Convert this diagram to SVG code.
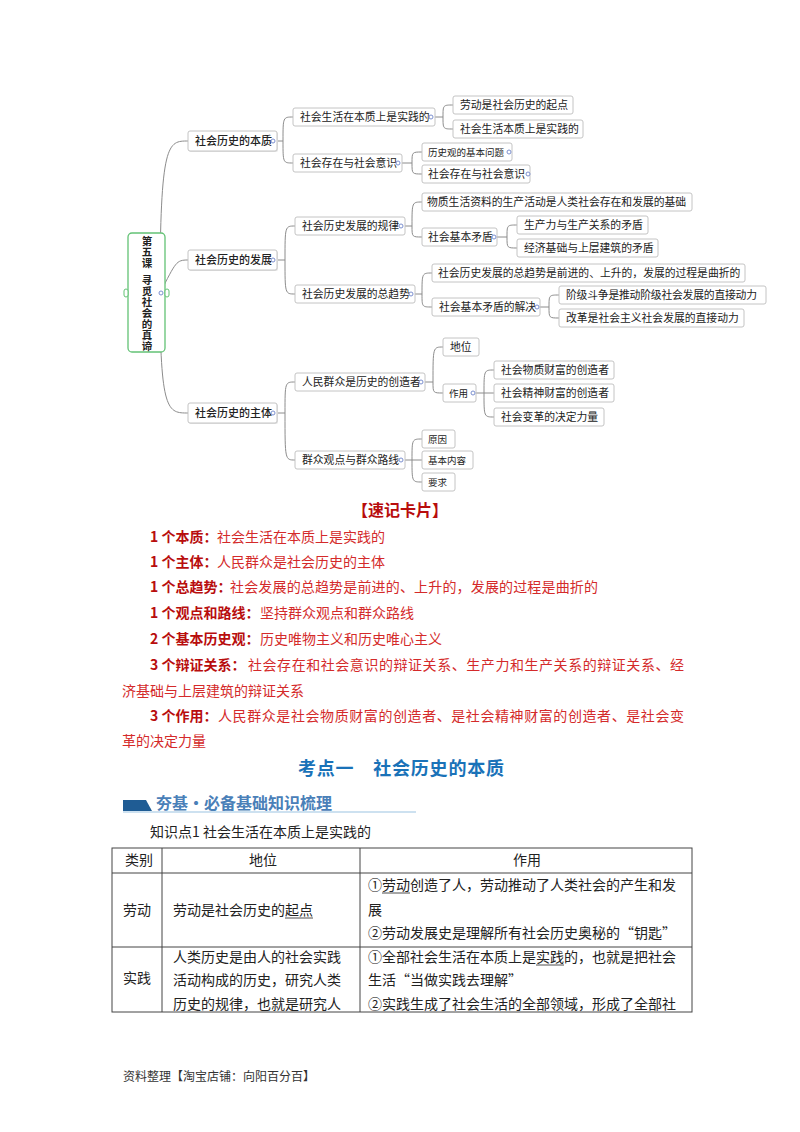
<svg xmlns="http://www.w3.org/2000/svg" width="800" height="1132" viewBox="0 0 800 1132">
<style>
.bg{fill:#fff}
.nb{fill:#fff;stroke:#c4c4c4;stroke-width:1}
.sh{fill:#e4e4e4}
.t{font-family:"Noto Sans CJK SC","Noto Sans",sans-serif;font-size:10.8px;fill:#222}
.ts{font-size:9.5px}
.t1{font-size:11px;font-weight:500}
.cn{fill:none;stroke:#8c8c8c;stroke-width:1}
.dot{fill:#fff;stroke:#7b8fcf;stroke-width:1}
.rt{font-family:"Noto Sans CJK SC",sans-serif;font-size:10.5px;font-weight:700;fill:#222;writing-mode:vertical-rl;letter-spacing:0.5px}
.cp{font-family:"Noto Sans CJK SC",serif;font-size:14px;font-weight:700;fill:#b80d0d}
.cb{font-family:"Noto Sans CJK SC",serif;font-size:14px;fill:#d42a2a}
.tb{font-family:"Noto Sans CJK SC",serif;font-size:14px;fill:#222}
.tl{stroke:#444;stroke-width:1;fill:none}
.ul{stroke:#222;stroke-width:0.8}
</style>
<rect class="bg" x="0" y="0" width="800" height="1132"/>

<!-- connectors -->
<g id="connectors">
  <path class="cn" d="M160,293 C160,141 168,141 188,141"/>
  <path class="cn" d="M160,293 C176,262 176,260 188,260"/>
  <path class="cn" d="M160,293 C160,413 168,413 188,413"/>

  <path class="cn" d="M277,141 H283 C283,117 283,117 293,117 M283,141 C283,163 283,163 293,163"/>
  <path class="cn" d="M277,260 H285 C285,226 285,226 295,226 M285,260 C285,294 285,294 295,294"/>
  <path class="cn" d="M277,413 H285 C285,382 285,382 295,382 M285,413 C285,460 285,460 295,460"/>

  <path class="cn" d="M435,117 H443 C443,105 443,105 453,105 M443,117 C443,129 443,129 453,129"/>
  <path class="cn" d="M402,163 H412 C412,152 412,152 422,152 M412,163 C412,174 412,174 422,174"/>
  <path class="cn" d="M405,226 H412 C412,202 412,202 422,202 M412,226 C412,237 412,237 422,237"/>
  <path class="cn" d="M497,237 H507 C507,225 507,225 517,225 M507,237 C507,248 507,248 517,248"/>
  <path class="cn" d="M415,294 H422 C422,273 422,273 432,273 M422,294 C422,307 422,307 432,307"/>
  <path class="cn" d="M540,307 H549 C549,295 549,295 559,295 M549,307 C549,318 549,318 559,318"/>
  <path class="cn" d="M425,382 H433 C433,347 433,347 443,347 M433,382 C433,393 433,393 443,393"/>
  <path class="cn" d="M476,393 H494 M484,393 C484,370 484,370 494,370 M484,393 C484,417 484,417 494,417"/>
  <path class="cn" d="M405,460 H422 M412,460 C412,439 412,439 422,439 M412,460 C412,482 412,482 422,482"/>
</g>

<!-- root -->
<g id="root">
  <rect x="128" y="233" width="37" height="119" rx="4" fill="#fff" stroke="#63c275" stroke-width="1.3"/>
  <rect x="124" y="289" width="4" height="8" rx="2" fill="#fff" stroke="#63c275" stroke-width="1"/>
  <rect x="165" y="289" width="4" height="8" rx="2" fill="#fff" stroke="#63c275" stroke-width="1"/>
  <circle class="dot" cx="161" cy="293" r="2"/>
  <text class="rt" x="147" y="236">第五课</text>
  <text class="rt" x="147" y="275">寻觅社会的真谛</text>
</g>

<!-- level 1 -->
<g id="n-benzhi"><rect class="sh" x="189" y="132" width="89" height="20" rx="2"/><rect class="nb" x="188" y="131" width="89" height="20" rx="2"/><text class="t t1" x="195" y="145">社会历史的本质</text><circle class="dot" cx="273" cy="141" r="2"/></g>
<g id="n-fazhan"><rect class="sh" x="189" y="251" width="89" height="20" rx="2"/><rect class="nb" x="188" y="250" width="89" height="20" rx="2"/><text class="t t1" x="195" y="264">社会历史的发展</text><circle class="dot" cx="273" cy="260" r="2"/></g>
<g id="n-zhuti"><rect class="sh" x="189" y="404" width="89" height="20" rx="2"/><rect class="nb" x="188" y="403" width="89" height="20" rx="2"/><text class="t t1" x="195" y="417">社会历史的主体</text><circle class="dot" cx="273" cy="413" r="2"/></g>

<!-- level 2 -->
<g id="n-shijian"><rect class="nb" x="293" y="108" width="142" height="18" rx="2"/><text class="t" x="300" y="121">社会生活在本质上是实践的</text><circle class="dot" cx="431" cy="117" r="2"/></g>
<g id="n-cunzai"><rect class="nb" x="293" y="154" width="109" height="18" rx="2"/><text class="t" x="300" y="167">社会存在与社会意识</text><circle class="dot" cx="398" cy="163" r="2"/></g>
<g id="n-guilv"><rect class="nb" x="295" y="217" width="110" height="18" rx="2"/><text class="t" x="302" y="230">社会历史发展的规律</text><circle class="dot" cx="401" cy="226" r="2"/></g>
<g id="n-qushi"><rect class="nb" x="295" y="285" width="120" height="18" rx="2"/><text class="t" x="302" y="298">社会历史发展的总趋势</text><circle class="dot" cx="411" cy="294" r="2"/></g>
<g id="n-chuangzao"><rect class="nb" x="295" y="373" width="130" height="18" rx="2"/><text class="t" x="302" y="386">人民群众是历史的创造者</text><circle class="dot" cx="421" cy="382" r="2"/></g>
<g id="n-qunzhong"><rect class="nb" x="295" y="451" width="110" height="18" rx="2"/><text class="t" x="302" y="464">群众观点与群众路线</text><circle class="dot" cx="401" cy="460" r="2"/></g>

<!-- level 3 -->
<g id="n-qidian"><rect class="nb" x="453" y="96" width="120" height="18" rx="2"/><text class="t" x="460" y="109">劳动是社会历史的起点</text></g>
<g id="n-shijian2"><rect class="nb" x="453" y="120" width="130" height="18" rx="2"/><text class="t" x="460" y="133">社会生活本质上是实践的</text></g>
<g id="n-wenti"><rect class="nb" x="422" y="143" width="90" height="18" rx="2"/><text class="t ts" x="428" y="155.5">历史观的基本问题</text><circle class="dot" cx="509" cy="152" r="2"/></g>
<g id="n-cunzai2"><rect class="nb" x="422" y="165" width="108" height="18" rx="2"/><text class="t" x="428" y="178">社会存在与社会意识</text><circle class="dot" cx="528" cy="174" r="2"/></g>
<g id="n-jichu"><rect class="nb" x="422" y="193" width="270" height="18" rx="2"/><text class="t" x="427" y="206">物质生活资料的生产活动是人类社会存在和发展的基础</text></g>
<g id="n-maodun"><rect class="nb" x="422" y="228" width="75" height="18" rx="2"/><text class="t" x="428" y="241">社会基本矛盾</text><circle class="dot" cx="494" cy="237" r="2"/></g>
<g id="n-scl"><rect class="nb" x="517" y="216" width="131" height="18" rx="2"/><text class="t" x="524" y="229">生产力与生产关系的矛盾</text></g>
<g id="n-jjjc"><rect class="nb" x="517" y="239" width="141" height="18" rx="2"/><text class="t" x="524" y="252">经济基础与上层建筑的矛盾</text></g>
<g id="n-zqs"><rect class="nb" x="432" y="264" width="313" height="18" rx="2"/><text class="t" x="438" y="277">社会历史发展的总趋势是前进的、上升的，发展的过程是曲折的</text></g>
<g id="n-jiejue"><rect class="nb" x="432" y="298" width="108" height="18" rx="2"/><text class="t" x="439" y="311">社会基本矛盾的解决</text><circle class="dot" cx="537" cy="307" r="2"/></g>
<g id="n-jieji"><rect class="nb" x="559" y="286" width="207" height="18" rx="2"/><text class="t" x="566" y="299" textLength="191">阶级斗争是推动阶级社会发展的直接动力</text></g>
<g id="n-gaige"><rect class="nb" x="559" y="309" width="185" height="18" rx="2"/><text class="t" x="566" y="322">改革是社会主义社会发展的直接动力</text></g>
<g id="n-diwei"><rect class="nb" x="443" y="338" width="36" height="18" rx="2"/><text class="t" x="450" y="351">地位</text></g>
<g id="n-zuoyong"><rect class="nb" x="443" y="384" width="33" height="18" rx="2"/><text class="t ts" x="449" y="396.5">作用</text><circle class="dot" cx="473" cy="393" r="2"/></g>
<g id="n-wuzhi"><rect class="nb" x="494" y="361" width="120" height="18" rx="2"/><text class="t" x="501" y="374">社会物质财富的创造者</text></g>
<g id="n-jingshen"><rect class="nb" x="494" y="384" width="120" height="18" rx="2"/><text class="t" x="501" y="397">社会精神财富的创造者</text></g>
<g id="n-biange"><rect class="nb" x="494" y="408" width="110" height="18" rx="2"/><text class="t" x="501" y="421">社会变革的决定力量</text></g>
<g id="n-yuanyin"><rect class="nb" x="422" y="430" width="33" height="18" rx="2"/><text class="t ts" x="428" y="442.5">原因</text></g>
<g id="n-neirong"><rect class="nb" x="422" y="451" width="51" height="18" rx="2"/><text class="t ts" x="428" y="463.5">基本内容</text></g>
<g id="n-yaoqiu"><rect class="nb" x="422" y="473" width="33" height="18" rx="2"/><text class="t ts" x="428" y="485.5">要求</text></g>

<!-- card -->
<g id="card">
  <text class="cp" x="400" y="516" text-anchor="middle" style="font-size:16px">【速记卡片】</text>
  <text class="cp" x="150" y="542">1 个本质：</text><text class="cb" x="217" y="542">社会生活在本质上是实践的</text>
  <text class="cp" x="150" y="567">1 个主体：</text><text class="cb" x="217" y="567">人民群众是社会历史的主体</text>
  <text class="cp" x="150" y="592">1 个总趋势：</text><text class="cb" x="230" y="592" textLength="368">社会发展的总趋势是前进的、上升的，发展的过程是曲折的</text>
  <text class="cp" x="150" y="618">1 个观点和路线：</text><text class="cb" x="260" y="618">坚持群众观点和群众路线</text>
  <text class="cp" x="150" y="644">2 个基本历史观：</text><text class="cb" x="260" y="644">历史唯物主义和历史唯心主义</text>
  <text class="cp" x="150" y="670">3 个辩证关系：</text><text class="cb" x="248" y="670" textLength="436">社会存在和社会意识的辩证关系、生产力和生产关系的辩证关系、经</text>
  <text class="cb" x="122" y="696">济基础与上层建筑的辩证关系</text>
  <text class="cp" x="150" y="721">3 个作用：</text><text class="cb" x="218" y="721" textLength="466">人民群众是社会物质财富的创造者、是社会精神财富的创造者、是社会变</text>
  <text class="cb" x="122" y="746">革的决定力量</text>
</g>

<!-- heading -->
<g id="heading">
  <text x="298" y="775" textLength="206" style="font-family:'Noto Sans CJK SC',sans-serif;font-size:18px;font-weight:700;fill:#1a72b8">考点一　社会历史的本质</text>
  <polygon points="123,800 146,800 152,811 123,811" fill="#1f5c94"/>
  <line x1="123" y1="812" x2="416" y2="812" stroke="#9cc3e2" stroke-width="1.2"/>
  <text x="156" y="809" style="font-family:'Noto Sans CJK SC',serif;font-size:16px;font-weight:700;fill:#4a80b8">夯基·必备基础知识梳理</text>
  <text class="tb" x="150" y="837">知识点1  社会生活在本质上是实践的</text>
</g>

<!-- table -->
<g id="table">
  <rect class="tl" x="112" y="848" width="580" height="164"/>
  <line class="tl" x1="162" y1="848" x2="162" y2="1012"/>
  <line class="tl" x1="360" y1="848" x2="360" y2="1012"/>
  <line class="tl" x1="112" y1="873" x2="692" y2="873"/>
  <line class="tl" x1="112" y1="947" x2="692" y2="947"/>
  <text class="tb" x="139" y="865" text-anchor="middle">类别</text>
  <text class="tb" x="263" y="865" text-anchor="middle">地位</text>
  <text class="tb" x="527" y="865" text-anchor="middle">作用</text>

  <text class="tb" x="123" y="915">劳动</text>
  <text class="tb" x="173" y="915">劳动是社会历史的起点</text>
  <line class="ul" x1="285" y1="918" x2="313" y2="918"/>
  <text class="tb" x="368" y="890">①劳动创造了人，劳动推动了人类社会的产生和发</text>
  <line class="ul" x1="382" y1="893" x2="410" y2="893"/>
  <text class="tb" x="368" y="915">展</text>
  <text class="tb" x="368" y="938">②劳动发展史是理解所有社会历史奥秘的“钥匙”</text>

  <text class="tb" x="123" y="983">实践</text>
  <text class="tb" x="173" y="962">人类历史是由人的社会实践</text>
  <text class="tb" x="173" y="985">活动构成的历史，研究人类</text>
  <text class="tb" x="173" y="1009">历史的规律，也就是研究人</text>
  <text class="tb" x="368" y="962">①全部社会生活在本质上是实践的，也就是把社会</text>
  <line class="ul" x1="536" y1="965" x2="564" y2="965"/>
  <text class="tb" x="368" y="985">生活“当做实践去理解”</text>
  <text class="tb" x="368" y="1009">②实践生成了社会生活的全部领域，形成了全部社</text>
</g>

<g id="footer">
  <text x="123" y="1081" style="font-family:'Noto Sans CJK SC',sans-serif;font-size:12px;fill:#333">资料整理【淘宝店铺：向阳百分百】</text>
</g>
</svg>
